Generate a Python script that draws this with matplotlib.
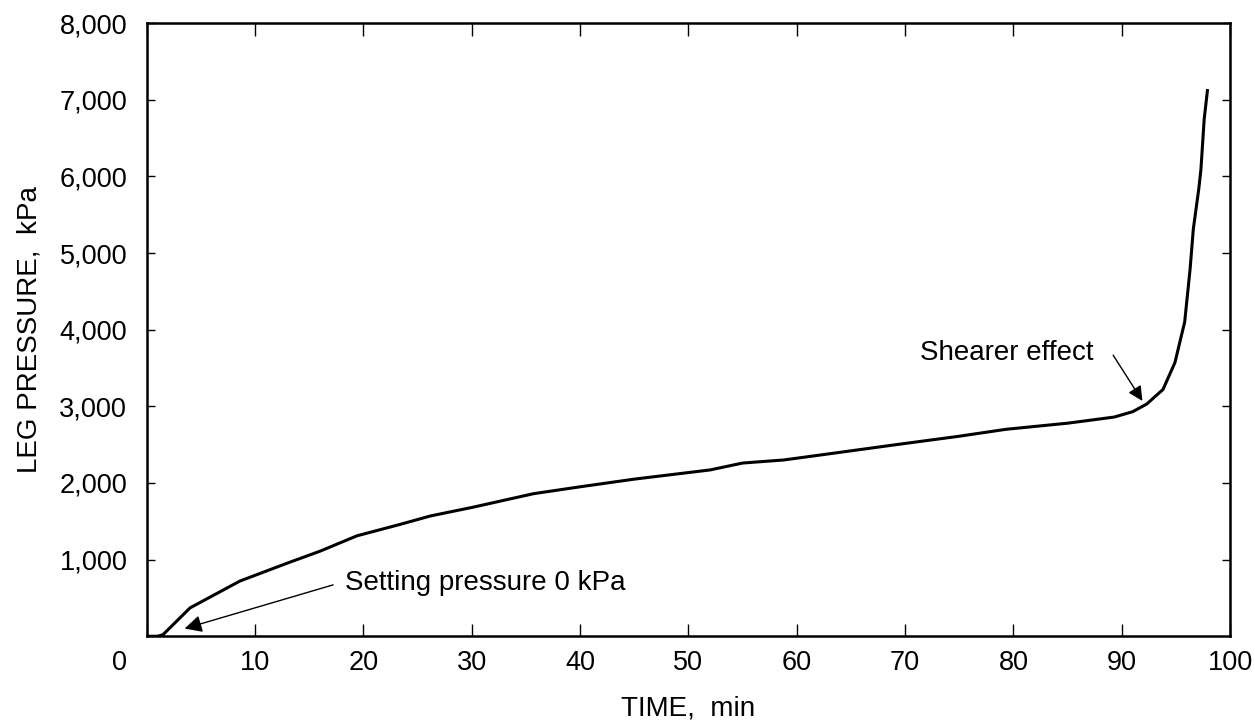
import matplotlib
matplotlib.use("Agg")
import matplotlib.pyplot as plt
import matplotlib.transforms as mtransforms

# leg pressure record
time_min = [0, 1, 1.5, 4, 8.6, 12.9, 16, 19.4, 23.4, 26.2, 30, 35.7, 40, 45, 52,
            55, 58.8, 64, 69.7, 75, 79.3, 85, 89.3, 91, 92.3, 93.8, 94.9, 95.8,
            96.3, 96.6, 97.1, 97.3, 97.6, 97.9]
pressure_kpa = [0, 0, 20, 370, 720, 950, 1110, 1310, 1460, 1570, 1680, 1860, 1950,
                2050, 2170, 2260, 2300, 2400, 2510, 2610, 2700, 2780, 2860, 2930,
                3030, 3220, 3570, 4100, 4790, 5315, 5835, 6090, 6745, 7120]

x_ticks = list(range(0, 101, 10))
y_ticks = list(range(1000, 8001, 1000))
y_tick_labels = [f"{v:,}" for v in y_ticks]

plt.rcParams["font.family"] = ["Liberation Sans", "DejaVu Sans"]

fig = plt.figure(figsize=(12.54, 7.23), dpi=100)
ax = fig.add_axes([0.117, 0.120, 0.864, 0.848])

ax.plot(time_min, pressure_kpa, color="black", linewidth=2.2)

ax.set_xlim(0, 100)
ax.set_ylim(0, 8000)
ax.set_xticks(x_ticks)
ax.set_xticklabels([str(v) for v in x_ticks])
ax.set_yticks(y_ticks)
ax.set_yticklabels(y_tick_labels)

ax.tick_params(axis="both", direction="in", top=True, right=True,
               labelsize=19.5, colors="black")
ax.tick_params(axis="x", length=9, width=1.0, pad=10)
ax.tick_params(axis="y", length=6, width=1.0, pad=14)
for side in ax.spines.values():
    side.set_linewidth(1.8)

# the origin label sits a little left of the axis in the original
first = ax.get_xticklabels()[0]
first.set_transform(first.get_transform() +
                    mtransforms.ScaledTranslation(-0.27, 0, fig.dpi_scale_trans))

ax.set_xlabel("TIME,  min", fontsize=20, labelpad=14)
ax.set_ylabel("LEG PRESSURE,  kPa", fontsize=20, labelpad=12)

ax.text(18.3, 690, "Setting pressure 0 kPa", fontsize=20, va="center", ha="left")
ax.annotate("", xy=(3.5, 100), xytext=(17.2, 670),
            arrowprops=dict(arrowstyle="-|>", color="black", lw=1.0,
                            mutation_scale=26, shrinkA=0, shrinkB=0))
ax.text(87.4, 3700, "Shearer effect", fontsize=20, va="center", ha="right")
ax.annotate("", xy=(91.9, 3070), xytext=(89.2, 3667),
            arrowprops=dict(arrowstyle="-|>", color="black", lw=1.0,
                            mutation_scale=22, shrinkA=0, shrinkB=0))

fig.savefig("out.png", dpi=100)
